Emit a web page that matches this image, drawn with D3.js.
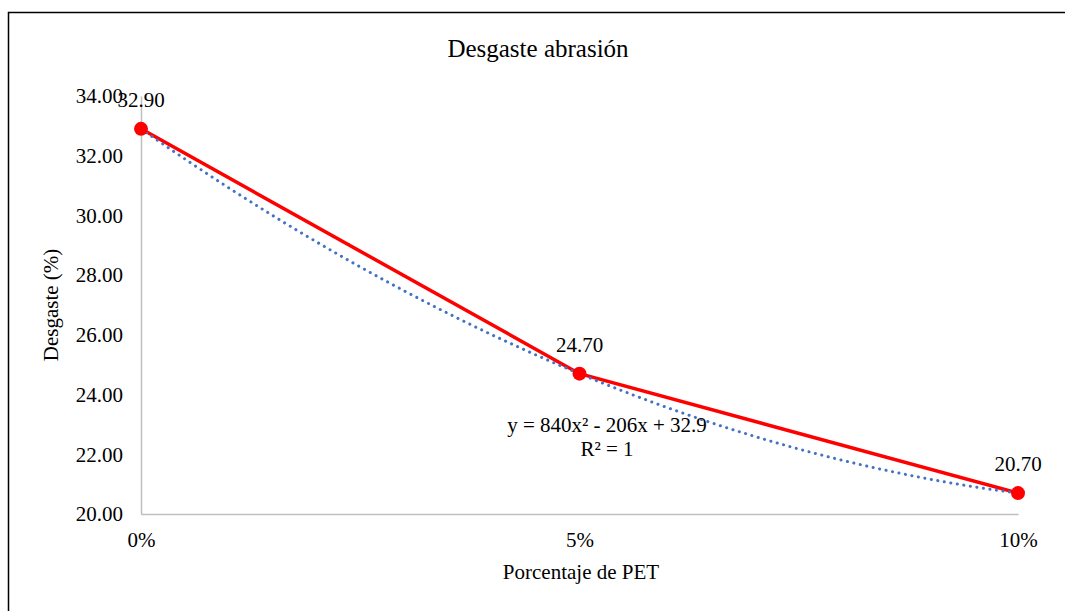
<!DOCTYPE html>
<html>
<head>
    <meta charset="utf-8">
    <title>Desgaste abrasión</title>
    <script src="https://cdn.jsdelivr.net/npm/d3@7"></script>
    <style>
        body { margin: 0; background: #fff; }
    </style>
</head>
<body>
    <svg width="1065" height="611" id="mainsvg"></svg>
    <script>
        const categories = ['0%', '5%', '10%'];
        const xValues = [0, 0.05, 0.1];
        const desgaste = [32.90, 24.70, 20.70];
        const yTicks = [20, 22, 24, 26, 28, 30, 32, 34];
        // coefficients of the trendline shown on the chart: a*x^2 + b*x + c
        const trendCoef = [840, -206, 32.9];

        const FONT = "'Liberation Serif', 'Times New Roman', serif";
        const FS = 21;
        const svg = d3.select('svg');

        // outer chart frame (runs off the right/bottom of the picture)
        svg.append('rect')
            .attr('x', 8.5).attr('y', 12.5)
            .attr('width', 1100).attr('height', 700)
            .attr('fill', 'none').attr('stroke', '#000').attr('stroke-width', 1.5);

        const x = d3.scaleLinear().domain([0, 0.1]).range([141, 1018]);
        const y = d3.scaleLinear().domain([20, 34]).range([514, 96]);

        svg.append('text')
            .attr('x', 538).attr('y', 57)
            .attr('text-anchor', 'middle').attr('font-size', 25)
            .attr('font-family', FONT)
            .text('Desgaste abrasión');

        // axes
        const yAxis = svg.append('g')
            .attr('transform', `translate(${x(0)},0)`)
            .call(d3.axisLeft(y).tickValues(yTicks).tickSize(0).tickPadding(18).tickFormat(d3.format('.2f')));
        yAxis.attr('font-family', FONT);
        yAxis.select('.domain').attr('stroke', '#bfbfbf').attr('stroke-width', 1.5);
        yAxis.selectAll('text').attr('font-size', FS).attr('fill', '#000').attr('dy', '0.32em');

        const xAxis = svg.append('g')
            .attr('transform', `translate(0,${y(20)})`)
            .call(d3.axisBottom(x).tickValues(xValues).tickSize(0).tickPadding(18)
                .tickFormat((d, i) => categories[i]));
        xAxis.attr('font-family', FONT);
        xAxis.select('.domain').attr('stroke', '#bfbfbf').attr('stroke-width', 1.5);
        xAxis.selectAll('text').attr('font-size', FS).attr('fill', '#000');

        svg.append('text')
            .attr('x', 581).attr('y', 579)
            .attr('text-anchor', 'middle').attr('font-size', FS)
            .attr('font-family', FONT)
            .text('Porcentaje de PET');

        svg.append('text')
            .attr('transform', 'translate(58,305) rotate(-90)')
            .attr('text-anchor', 'middle').attr('font-size', FS)
            .attr('font-family', FONT)
            .text('Desgaste (%)');

        // data line
        const line = d3.line().x((d, i) => x(xValues[i])).y(d => y(d));
        svg.append('path')
            .datum(desgaste)
            .attr('d', line)
            .attr('fill', 'none').attr('stroke', '#ff0000').attr('stroke-width', 3.5)
            .attr('stroke-linejoin', 'round');

        // polynomial trendline
        const trendX = d3.range(0, 0.1001, 0.002);
        const poly = t => trendCoef[0] * t * t + trendCoef[1] * t + trendCoef[2];
        svg.append('path')
            .datum(trendX)
            .attr('d', d3.line().x(t => x(t)).y(t => y(poly(t))))
            .attr('fill', 'none').attr('stroke', '#4472c4').attr('stroke-width', 3)
            .attr('stroke-linecap', 'round').attr('stroke-dasharray', '0.1 6.5');

        svg.selectAll('circle.pt').data(desgaste).join('circle')
            .attr('class', 'pt')
            .attr('cx', (d, i) => x(xValues[i])).attr('cy', d => y(d))
            .attr('r', 7).attr('fill', '#ff0000');

        svg.selectAll('text.lbl').data(desgaste).join('text')
            .attr('class', 'lbl')
            .attr('x', (d, i) => x(xValues[i])).attr('y', d => y(d) - 22)
            .attr('text-anchor', 'middle').attr('font-size', FS)
            .attr('font-family', FONT)
            .text(d => d.toFixed(2));

        const eq = svg.append('text').attr('text-anchor', 'middle').attr('font-size', FS)
            .attr('font-family', FONT);
        eq.append('tspan').attr('x', 607).attr('y', 432).text('y = 840x² - 206x + 32.9');
        eq.append('tspan').attr('x', 607).attr('y', 456).text('R² = 1');
    </script>
</body>
</html>
